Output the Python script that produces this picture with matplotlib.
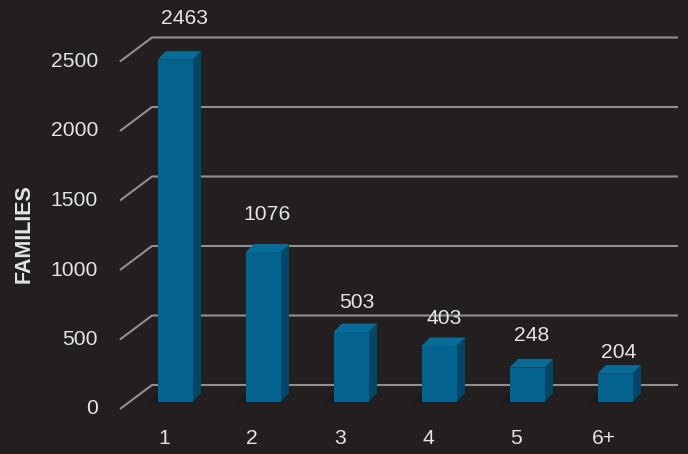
import matplotlib
matplotlib.use("Agg")
import matplotlib.pyplot as plt
from matplotlib.patches import Polygon

# ---- data ----
categories = ["1", "2", "3", "4", "5", "6+"]
families = [2463, 1076, 503, 403, 248, 204]
y_ticks = [0, 500, 1000, 1500, 2000, 2500]
y_label = "FAMILIES"

# ---- layout / style ----
W, H, DPI = 688, 454, 100
BG = "#231f20"
TXT = "#e4e4e4"
GRID = "#909090"
FRONT = "#04628e"
SIDE = "#024668"
TOP = "#086c98"
FONT = ["Liberation Sans", "DejaVu Sans"]
plt.rcParams["font.family"] = FONT

label_dx_px = [9, 4, 5.5, 5, 4.5, 4]
label_dy_px = [41, 38, 30, 27, 32, 21]

fig = plt.figure(figsize=(W / DPI, H / DPI), dpi=DPI, facecolor=BG)
ax_l, ax_b, ax_w, ax_h = 131 / W, 52 / H, 528 / W, 347.5 / H
ax = fig.add_axes([ax_l, ax_b, ax_w, ax_h])
ax.set_facecolor(BG)
ax.set_xlim(-0.5, len(categories) - 0.5)
ax.set_ylim(0, 2500)
ax.axis("off")

sx = W * ax_w / len(categories)  # px per x unit
sy = H * ax_h / 2500.0           # px per value unit


def dx(p):
    return p / sx


def dy(p):
    return p / sy


# gridlines (perspective floor/back-wall)
x_front = dx(120 - 175)
x_back = dx(152 - 175)
x_end = dx(678 - 175)
for t in y_ticks:
    yf = t - dy(7)
    yb = t + dy(17)
    ax.plot([x_front, x_back, x_end], [yf, yb, yb], color=GRID, lw=1.5,
            solid_capstyle="butt", clip_on=False, zorder=1)
    ax.text(dx(98 - 175), yf, f"{t}", ha="right", va="center",
            color=TXT, fontsize=15.2, clip_on=False)

# bars with 3D look
bw = 35 / sx
ddx, ddy = dx(8.5), dy(8.5)
xs = list(range(len(categories)))
for i, v in zip(xs, families):
    # soft shadow
    ax.add_patch(Polygon([(i - bw / 2 - dx(10), dy(-1)), (i + bw / 2, dy(-1)),
                          (i + bw / 2 + ddx, ddy), (i - bw / 2 - dx(2), ddy)],
                         closed=True, facecolor="#151213", edgecolor="none",
                         alpha=0.45, zorder=2, clip_on=False))
ax.bar(xs, families, width=bw, color=FRONT, zorder=4)
for i, v in zip(xs, families):
    r = i + bw / 2
    l = i - bw / 2
    ax.add_patch(Polygon([(r, 0), (r + ddx, ddy), (r + ddx, v + ddy), (r, v)],
                         closed=True, facecolor=SIDE, edgecolor="none",
                         zorder=3, clip_on=False))
    ax.add_patch(Polygon([(l, v), (r, v), (r + ddx, v + ddy), (l + ddx, v + ddy)],
                         closed=True, facecolor=TOP, edgecolor="none",
                         zorder=3, clip_on=False))
    ax.text(i + dx(label_dx_px[i]), v + dy(label_dy_px[i]), f"{v}",
            ha="center", va="center", color=TXT, fontsize=15.2, clip_on=False)
    ax.text(i - dx(11), dy(-37), categories[i], ha="center", va="center",
            color=TXT, fontsize=15.2, clip_on=False)

fig.text(24 / W, 1 - 234 / H, y_label, rotation=90, ha="center", va="center",
         color=TXT, fontsize=15.5, fontweight="bold")

fig.savefig("out.png", dpi=DPI, facecolor=BG)
